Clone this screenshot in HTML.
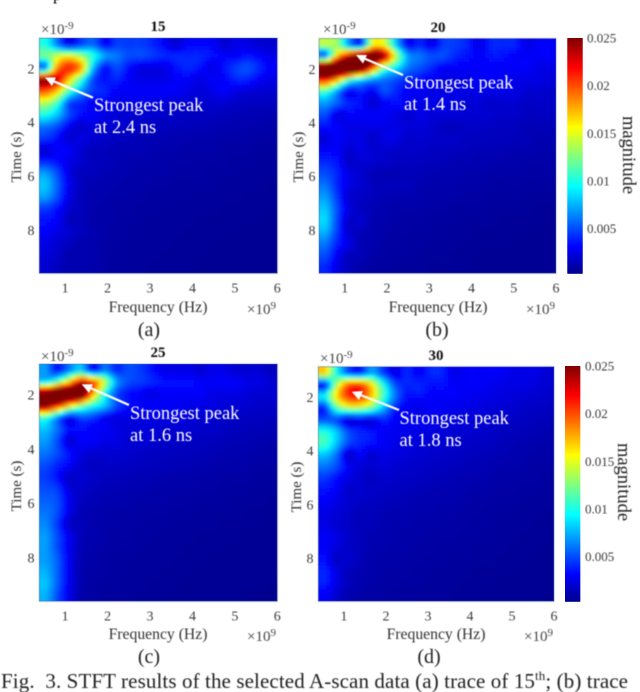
<!DOCTYPE html>
<html lang="en">
<head>
<meta charset="utf-8">
<title>STFT results</title>
<style>
html,body{margin:0;padding:0;background:#fff;width:640px;height:692px;overflow:hidden}
svg{display:block}
text{font-family:"Liberation Serif",serif}
.soft{filter:url(#soft)}
.tick{font-size:14px;fill:#3a3a3a}
.cbtick{font-size:13px;fill:#3a3a3a}
.lab{font-size:15.7px;fill:#333}
.ylab{font-size:15px;fill:#333}
.ttl{font-size:15px;font-weight:bold;fill:#111}
.sub{font-size:20px;fill:#222}
.ann{font-size:18.5px;fill:#fff}
.exp{font-size:15px;fill:#444}
.expsup{font-size:11px;fill:#444}
.mag{font-size:18.5px;fill:#222}
.cap{font-size:21px;fill:#222}
</style>
</head>
<body>
<svg id="figure" xmlns="http://www.w3.org/2000/svg" width="640" height="692" viewBox="0 0 640 692">
<defs>
<filter id="hm" x="-5%" y="-5%" width="110%" height="110%"><feGaussianBlur stdDeviation="1.8"/></filter>
<filter id="soft" x="-5%" y="-5%" width="110%" height="110%"><feGaussianBlur stdDeviation="0.4"/></filter>
</defs>
<g id="heatmaps"></g>
<g id="axes" class="soft"></g>

<g class="soft">
<text x="53" y="0" font-size="17">p</text>

<text class="ttl" x="158" y="31" text-anchor="middle">15</text>
<text class="ttl" x="438" y="32" text-anchor="middle">20</text>
<text class="ttl" x="158" y="357" text-anchor="middle">25</text>
<text class="ttl" x="436" y="360" text-anchor="middle">30</text>

<text class="lab" x="158" y="312" text-anchor="middle">Frequency (Hz)</text>
<text class="lab" x="438" y="312" text-anchor="middle">Frequency (Hz)</text>
<text class="lab" x="158" y="639" text-anchor="middle">Frequency (Hz)</text>
<text class="lab" x="436" y="639" text-anchor="middle">Frequency (Hz)</text>

<text class="ylab" transform="translate(21,157) rotate(-90)" text-anchor="middle">Time (s)</text>
<text class="ylab" transform="translate(303,157) rotate(-90)" text-anchor="middle">Time (s)</text>
<text class="ylab" transform="translate(21,486) rotate(-90)" text-anchor="middle">Time (s)</text>
<text class="ylab" transform="translate(301,487) rotate(-90)" text-anchor="middle">Time (s)</text>

<text class="exp" x="41" y="34">×10<tspan class="expsup" dy="-5">-9</tspan></text>
<text class="exp" x="323" y="34">×10<tspan class="expsup" dy="-5">-9</tspan></text>
<text class="exp" x="41" y="361">×10<tspan class="expsup" dy="-5">-9</tspan></text>
<text class="exp" x="320" y="363">×10<tspan class="expsup" dy="-5">-9</tspan></text>

<text class="exp" x="247" y="314">×10<tspan class="expsup" dy="-5">9</tspan></text>
<text class="exp" x="526" y="314">×10<tspan class="expsup" dy="-5">9</tspan></text>
<text class="exp" x="247" y="641">×10<tspan class="expsup" dy="-5">9</tspan></text>
<text class="exp" x="524" y="641">×10<tspan class="expsup" dy="-5">9</tspan></text>

<text class="sub" x="149" y="336" text-anchor="middle">(a)</text>
<text class="sub" x="437" y="336" text-anchor="middle">(b)</text>
<text class="sub" x="149" y="663" text-anchor="middle">(c)</text>
<text class="sub" x="429" y="663" text-anchor="middle">(d)</text>

<text class="mag" transform="translate(623,155) rotate(90)" text-anchor="middle">magnitude</text>
<text class="mag" transform="translate(618,482) rotate(90)" text-anchor="middle">magnitude</text>

<g>
<line x1="93" y1="97.7" x2="51" y2="80.2" stroke="#fff" stroke-width="2.2"/>
<polygon points="45,77.5 56,77.5 52,86" fill="#fff"/>
<text class="ann" x="94" y="111">Strongest peak</text>
<text class="ann" x="94" y="133">at 2.4 ns</text>
</g>
<g>
<line x1="403" y1="75" x2="362" y2="57.5" stroke="#fff" stroke-width="2.2"/>
<polygon points="356,55 367,55 363,63.5" fill="#fff"/>
<text class="ann" x="404" y="88.5">Strongest peak</text>
<text class="ann" x="404" y="110">at 1.4 ns</text>
</g>
<g>
<line x1="129" y1="405" x2="88" y2="387" stroke="#fff" stroke-width="2.2"/>
<polygon points="81.7,384.3 93,384.3 89,393" fill="#fff"/>
<text class="ann" x="130" y="419">Strongest peak</text>
<text class="ann" x="130" y="441">at 1.6 ns</text>
</g>
<g>
<line x1="399" y1="410" x2="358" y2="394" stroke="#fff" stroke-width="2.2"/>
<polygon points="351.7,391.7 363,391 359,400" fill="#fff"/>
<text class="ann" x="399.5" y="424">Strongest peak</text>
<text class="ann" x="399.5" y="446">at 1.8 ns</text>
</g>

<text class="cap" x="1" y="688" textLength="627" xml:space="preserve">Fig.  3. STFT results of the selected A-scan data (a) trace of 15<tspan font-size="13" dy="-8">th</tspan><tspan dy="8">; (b) trace</tspan></text>
</g>
</svg>

<script>
/* magnitudes in units of 0.001, 20 frequency columns by 20 time rows */
var trace15 = [
[10,6,2.5,4.5,5.5,3,4.5,4.5,4.5,4,3,2,3,3,3,2,2.5,2.5,2,2],
[12,14,15,13,10,7,6,5,5,4.5,4,4,4,4,3.5,3,3,3.5,3,2.5],
[6,18,21,18,8,3.5,5,3.5,2.5,2.5,2.5,3.5,4,3.5,2.5,3.5,4.5,5,4,3],
[24,23,17,11,5,3.5,4,3,2.5,2.5,2.5,3,3,2.5,3,3,4,4,3,2.5],
[20,17,11,7,4.5,4,3,3,3,3,3,3,2.5,2.2,2.5,3,2.5,2.2,2,2],
[14,11,5,4,3,3,2.5,2.5,2.5,2.5,2.2,2,2,2,2,2,1.8,1.6,1.6,1.6],
[10,8,5,3.5,3,2.5,2.2,2,2,2,1.8,1.8,1.6,1.6,1.6,1.5,1.4,1.3,1.3,1.2],
[6,5,3,1.8,2.5,2,2,1.8,1.8,1.6,1.5,1.5,1.4,1.4,1.3,1.2,1.2,1.1,1.1,1],
[4.5,3.5,2,2.5,2,1.8,1.6,1.5,1.4,1.3,1.3,1.2,1.2,1.1,1.1,1,1,1,.9,.9],
[2,3,3,2,1.5,1.5,1.3,1.3,1.3,1.2,1.1,1.1,1,1,1,.9,.9,.9,.8,.8],
[4,3.5,2.5,2,1.5,1.5,1.3,1.2,1.1,1.1,1,1,1,.9,.9,.9,.8,.8,.8,.7],
[7,5,2.5,1.5,1.5,1.3,1.2,1.1,1,1,1,.9,.9,.9,.8,.8,.8,.7,.7,.7],
[8,5.5,2.8,1.6,1.2,1.2,1.1,1,1,.9,.9,.8,.8,.8,.8,.7,.7,.7,.7,.6],
[7,5,2.5,1.4,1.2,1.1,1,1,.9,.8,.8,.8,.8,.7,.7,.7,.7,.6,.6,.6],
[4.5,3.5,2,1.5,1.1,1,.9,.9,.8,.8,.8,.7,.7,.7,.7,.6,.6,.6,.6,.6],
[3.5,3,1.5,1.5,1,1,.9,.8,.8,.7,.7,.7,.7,.6,.6,.6,.6,.6,.6,.5],
[3,2.5,2,1.5,1.2,1,.9,.8,.8,.7,.7,.7,.6,.6,.6,.6,.6,.5,.5,.5],
[2.5,2,1.5,1.2,1.1,.9,.8,.8,.7,.7,.7,.6,.6,.6,.6,.5,.5,.5,.5,.5],
[2.2,1.8,1.2,1.2,1.2,.9,.8,.7,.7,.7,.6,.6,.6,.6,.5,.5,.5,.5,.5,.5],
[2,1.5,1.2,1.2,1,.9,.8,.7,.7,.6,.6,.6,.6,.5,.5,.5,.5,.5,.5,.5]
];
var trace20 = [
[14,13,7,4,15,15,8,3,4,2.5,4.5,4.5,4,2.5,4,4,4,2.5,3,3],
[6,17,23,27,27,24,14,7,6,5,5,4,3.5,3,3.5,3.5,3,3,3,3],
[30,32,32,28,20,12,9,6,5,4,3,3,3,3,3,3,3,3,2.5,2.5],
[22,18,12,9,7,6,5,4,3.5,3,2.5,2.5,2.5,3,3,3,2.5,2.5,2.5,2.2],
[11,7,3,4,3,5,4,3,3,2.5,2.5,2.5,2.5,2.5,2.5,2.5,2.5,2,2,1.8],
[7,5.5,4,3.5,2,3,3.5,3,2.5,2.5,2.5,2.5,2,2.2,1.8,2,2,1.7,1.8,1.8],
[5,2.5,3,3,3,3,2.5,2,2.5,2.2,2.2,2.2,2,2,2,1.8,1.8,1.6,1.6,1.6],
[3.5,3,2.5,2.5,2.5,2.5,2.5,2.2,2.2,2,1.6,1.5,1.8,1.8,1.6,1.6,1.6,1.3,1.4,1.4],
[2.2,3,2.5,2.5,1.8,2.5,2.5,1.8,2,1.8,1.8,1.8,1.6,1.6,1.5,1.5,1.4,1.4,1.2,1.2],
[3,3,2,2.5,2,2,1.8,1.8,1.8,1.6,1.6,1.5,1.5,1.3,1.4,1.3,1.2,1.2,1.1,1.1],
[4,3.5,1.8,2,2,1.8,1.6,1.6,1.5,1.5,1.4,1.2,1.3,1.2,1.2,1.1,1.1,1,1,1],
[5,4,2.5,2,1.4,1.3,1.3,1.4,1.4,1.3,1.2,1.2,1.1,1.1,1,1,1,.9,.9,.9],
[6,4,2.5,2,1.5,1.5,1.5,1.5,1.2,1.1,1.1,1.1,1,1,.9,.8,.9,.8,.8,.8],
[7,4.5,2,1.8,1.5,1.3,1.2,1.2,1.1,1,1,1,.9,.9,.8,.8,.8,.7,.7,.7],
[8,5,2.5,1.6,1.3,1.2,1,1,1,.9,.9,.8,.8,.8,.7,.7,.7,.7,.6,.6],
[8.5,4.8,1.8,2,1.2,1.1,1,.9,.9,.8,.8,.8,.7,.7,.7,.6,.6,.6,.6,.6],
[7.5,4.5,2,1.5,1.2,1,.9,.9,.8,.8,.7,.7,.7,.6,.6,.6,.6,.6,.5,.5],
[6,3.8,2.5,1.3,1.2,.9,.9,.8,.8,.7,.7,.7,.6,.6,.6,.6,.5,.5,.5,.5],
[5,3,1.5,1.5,1,.9,.8,.8,.7,.7,.7,.6,.6,.6,.5,.5,.5,.5,.5,.5],
[4,2.5,1.5,1,.8,.8,.7,.7,.7,.6,.6,.6,.6,.5,.5,.5,.5,.5,.5,.5]
];
var trace25 = [
[7,3.5,6,8,3,6,4,5,4.5,3.5,2.5,2.5,2.5,2,2.5,2.5,2,2,2,1.5],
[9,12,17,23,20,14,7,5,4.5,4,3.5,3.5,3.5,3,3,3,3,2.5,2.5,2],
[27,29,30,29,18,10,5,3.5,3,2.5,3,3,3,3,2.5,2.5,2.5,2.2,2,2],
[25,22,17,13,10,8,5,3.5,3,3,3,2.8,2.6,2.5,2.4,2.2,2,2,1.8,1.8],
[11,7,3,5,4.5,3,2.5,2.5,2.5,2.5,2.4,2.4,2.2,2,2,1.8,1.8,1.6,1.6,1.5],
[8,6,3.5,3.5,3,3,2.5,2.2,2.2,2.2,2,2,2,1.8,1.8,1.6,1.5,1.4,1.4,1.3],
[7,5,2.2,3,3,2.5,2.5,2,2.2,2,1.8,1.8,1.7,1.6,1.5,1.4,1.3,1.3,1.2,1.1],
[6,5,3.5,2.5,2,2,2,1.9,1.7,1.6,1.6,1.5,1.5,1.4,1.3,1.2,1.2,1.1,1,1],
[5,4,3,2,1.6,1.8,1.7,1.6,1.6,1.5,1.4,1.4,1.3,1.2,1.1,1.1,1,1,.9,.9],
[4.5,3.5,1.8,2,1.8,1.5,1.5,1.4,1.3,1.3,1.2,1.1,1.1,1,1,.9,.9,.9,.8,.8],
[5,4.5,2.3,1.8,1.5,1.4,1.3,1.2,1.2,1.1,1,1,1,.9,.9,.8,.8,.8,.7,.7],
[5.5,5,2.8,1.6,1.4,1.2,1.2,1.1,1,1,1,.9,.9,.8,.8,.8,.7,.7,.7,.6],
[6,5,2.6,1.4,1.2,1.1,1,1,.9,.9,.9,.8,.8,.7,.7,.7,.7,.6,.6,.6],
[6.5,4.5,1.8,1.5,1.1,1,1,.9,.9,.8,.8,.7,.7,.7,.7,.6,.6,.6,.6,.5],
[7,5,2.8,1.4,1.2,1,.9,.9,.8,.8,.7,.7,.7,.6,.6,.6,.6,.5,.5,.5],
[7,5,2.8,1.3,1.1,.9,.9,.8,.8,.7,.7,.7,.6,.6,.6,.6,.5,.5,.5,.5],
[7,5.5,2.8,1.3,1,.9,.8,.8,.7,.7,.7,.6,.6,.6,.5,.5,.5,.5,.5,.5],
[7.5,5.5,2.8,1.2,1,.9,.8,.7,.7,.7,.6,.6,.6,.5,.5,.5,.5,.5,.5,.5],
[8,5.5,2.8,1.2,.9,.8,.8,.7,.7,.6,.6,.6,.5,.5,.5,.5,.5,.5,.5,.4],
[7.5,5,2.6,1.1,.9,.8,.7,.7,.6,.6,.6,.5,.5,.5,.5,.5,.5,.4,.4,.4]
];
var trace30 = [
[17,10,5,3.5,7,4.5,2.5,4,3,4,4,2.5,3,3,3,3,2.5,2.5,2.5,2],
[3.5,13,19,20,16,10,5,4,4,3.5,3.5,3,3,3,2.8,2.5,2.5,2.5,2.2,2],
[9,16,20.5,21,17,11,6,3.5,3.5,3,3,3,2.8,2.6,2.5,2.4,2.2,2,2,1.8],
[4,11,14,14,12,8,4,3,2.5,3,2.8,2.6,2.5,2.4,2.2,2,2,1.8,1.7,1.6],
[5,5,2.5,3,2.5,4,3,2.8,2.8,2.6,2.5,2.4,2.2,2.1,2,1.8,1.7,1.6,1.5,1.4],
[10,8,5,4,3.5,3,2.8,2.6,2.5,2.4,2.2,2,2,1.9,1.8,1.6,1.5,1.4,1.3,1.2],
[11,8,5,4,3.5,3,2.6,2.4,2.2,2,2,1.9,1.8,1.7,1.6,1.4,1.3,1.2,1.1,1.1],
[8,6,2,3,2,2.5,2.3,2.2,2,1.9,1.8,1.7,1.6,1.5,1.4,1.3,1.2,1.1,1,1],
[6,5,3,2.2,2,2.2,2,1.9,1.8,1.7,1.6,1.5,1.4,1.3,1.2,1.1,1.1,1,.9,.9],
[4.5,3.5,2.5,2,1.6,1.9,1.8,1.7,1.6,1.5,1.4,1.3,1.2,1.2,1.1,1,1,.9,.9,.8],
[3.5,3,1.8,2,1.8,1.7,1.6,1.5,1.4,1.3,1.2,1.2,1.1,1,1,.9,.9,.8,.8,.7],
[3,2.5,2,1.8,1.6,1.5,1.4,1.3,1.2,1.2,1.1,1.1,1,.9,.9,.8,.8,.7,.7,.7],
[2.5,2.2,1.8,1.4,1.5,1.3,1.2,1.2,1.1,1.1,1,1,.9,.9,.8,.8,.7,.7,.7,.6],
[2.5,2,1.8,1.4,1.4,1.2,1.1,1.1,1,1,1,.9,.9,.8,.8,.7,.7,.7,.6,.6],
[3,2.5,1.8,1.5,1.2,1.2,1.1,1,1,.9,.9,.9,.8,.8,.7,.7,.7,.6,.6,.6],
[3,2.2,1.8,1.5,1.2,1.1,1,1,.9,.9,.8,.8,.8,.7,.7,.7,.6,.6,.6,.5],
[3.5,1.8,2,1.4,1.1,1,1,.9,.9,.8,.8,.7,.7,.7,.7,.6,.6,.6,.5,.5],
[4,2.5,1.5,1.2,1.1,1,.9,.9,.8,.8,.7,.7,.7,.6,.6,.6,.6,.5,.5,.5],
[3.8,2.5,1.5,1.2,1,.9,.9,.8,.8,.7,.7,.7,.6,.6,.6,.5,.5,.5,.5,.5],
[3,2,1.2,1,.9,.9,.8,.8,.7,.7,.7,.6,.6,.6,.5,.5,.5,.5,.5,.4]
];
var freqTicks = [1, 2, 3, 4, 5, 6];
var timeTicks = [2, 4, 6, 8];
var colorbarTicks = [0.005, 0.01, 0.015, 0.02, 0.025];
var colorbarLabels = ["0.005", "0.01", "0.015", "0.02", "0.025"];

var NS = "http://www.w3.org/2000/svg";
var COLOR_MAX = 0.025, COLOR_MIN = 0.0003;
var FREQ_MIN = 0.39, FREQ_MAX = 6, TIME_MIN = 0.85, TIME_MAX = 9.6;

function jet(t) {
  t = Math.max(0, Math.min(1, t));
  function ch(c) { return Math.round(255 * Math.max(0, Math.min(1, 1.5 - Math.abs(4 * t - c)))); }
  return "rgb(" + ch(3) + "," + ch(2) + "," + ch(1) + ")";
}
function catmull(p0, p1, p2, p3, f) {
  return p1 + 0.5 * f * (p2 - p0 + f * (2 * p0 - 5 * p1 + 4 * p2 - p3 + f * (3 * (p1 - p2) + p3 - p0)));
}
function sample(grid, gx, gy) {
  var rows = grid.length, cols = grid[0].length;
  gx = Math.max(0, Math.min(cols - 1, gx));
  gy = Math.max(0, Math.min(rows - 1, gy));
  var ix = Math.floor(gx), iy = Math.floor(gy), fx = gx - ix, fy = gy - iy, vals = [];
  for (var r = -1; r <= 2; r++) {
    var row = grid[Math.max(0, Math.min(rows - 1, iy + r))];
    vals.push(catmull(
      row[Math.max(0, ix - 1)], row[ix],
      row[Math.min(cols - 1, ix + 1)], row[Math.min(cols - 1, ix + 2)], fx));
  }
  return Math.max(0, catmull(vals[0], vals[1], vals[2], vals[3], fy));
}
function addText(parent, x, y, str, anchor, cls) {
  var t = document.createElementNS(NS, "text");
  t.setAttribute("x", x);
  t.setAttribute("y", y);
  t.setAttribute("class", cls);
  t.setAttribute("text-anchor", anchor);
  t.textContent = str;
  parent.appendChild(t);
  return t;
}

var panels = [
  {id: "a", grid: trace15, left: 39.3, right: 277.3, top: 38, bottom: 273.3, ylab: 31},
  {id: "b", grid: trace20, left: 319, right: 556, top: 38.5, bottom: 273.3, ylab: 312},
  {id: "c", grid: trace25, left: 39.3, right: 277.3, top: 364, bottom: 601.3, ylab: 31},
  {id: "d", grid: trace30, left: 318.3, right: 554, top: 366.7, bottom: 601.3, ylab: 310}
];
var heatLayer = document.getElementById("heatmaps");
var axesLayer = document.getElementById("axes");
var defs = document.querySelector("#figure defs");
var SUB = 3;

panels.forEach(function (p) {
  function xScale(v) { return p.left + (v - FREQ_MIN) / (FREQ_MAX - FREQ_MIN) * (p.right - p.left); }
  function yScale(v) { return p.top + (v - TIME_MIN) / (TIME_MAX - TIME_MIN) * (p.bottom - p.top); }

  var clip = document.createElementNS(NS, "clipPath");
  clip.setAttribute("id", "clip-" + p.id);
  var cr = document.createElementNS(NS, "rect");
  cr.setAttribute("x", p.left);
  cr.setAttribute("y", p.top);
  cr.setAttribute("width", p.right - p.left);
  cr.setAttribute("height", p.bottom - p.top);
  clip.appendChild(cr);
  defs.appendChild(clip);

  var outer = document.createElementNS(NS, "g");
  outer.setAttribute("clip-path", "url(#clip-" + p.id + ")");
  
  
  var inner = document.createElementNS(NS, "g");
  inner.setAttribute("filter", "url(#hm)");
  inner.setAttribute("shape-rendering", "crispEdges");
  outer.appendChild(inner);

  var rows = p.grid.length, cols = p.grid[0].length;
  var cw = (p.right - p.left) / (cols * SUB), ch = (p.bottom - p.top) / (rows * SUB);
  for (var j = -3; j < rows * SUB + 3; j++) {
    for (var i = -3; i < cols * SUB + 3; i++) {
      var gx = (i + 0.5) / SUB - 0.5, gy = (j + 0.5) / SUB - 0.5;
      var v = sample(p.grid, gx, gy) / 1000;
      var el = document.createElementNS(NS, "rect");
      el.setAttribute("x", (p.left + i * cw).toFixed(2));
      el.setAttribute("y", (p.top + j * ch).toFixed(2));
      el.setAttribute("width", (cw + 0.6).toFixed(2));
      el.setAttribute("height", (ch + 0.6).toFixed(2));
      el.setAttribute("fill", jet(v / COLOR_MAX));
      
      
      inner.appendChild(el);
    }
  }
  heatLayer.appendChild(outer);

  var frame = document.createElementNS(NS, "rect");
  frame.setAttribute("x", p.left);
  frame.setAttribute("y", p.top);
  frame.setAttribute("width", p.right - p.left);
  frame.setAttribute("height", p.bottom - p.top);
  frame.setAttribute("fill", "none");
  frame.setAttribute("stroke", "#5c6f9c");
  frame.setAttribute("stroke-width", "0.6");
  
  
  axesLayer.appendChild(frame);

  freqTicks.forEach(function (f) {
    var t = addText(axesLayer, xScale(f), p.bottom + 19, String(f), "middle", "tick");
    
    
  });
  timeTicks.forEach(function (s) {
    var t = addText(axesLayer, p.ylab, yScale(s) + 4.5, String(s), "middle", "tick");
    
    
  });
});

var colorbars = [
  {left: 567.3, right: 582.7, top: 38, bottom: 273.3, label: 587},
  {left: 565, right: 580.3, top: 366, bottom: 601.3, label: 585}
];
colorbars.forEach(function (c, idx) {
  var g = document.createElementNS(NS, "g");
  
  
  var n = 118, h = (c.bottom - c.top) / n;
  for (var k = 0; k < n; k++) {
    var frac = (k + 0.5) / n;
    var val = COLOR_MAX - frac * (COLOR_MAX - COLOR_MIN);
    var r = document.createElementNS(NS, "rect");
    r.setAttribute("x", c.left);
    r.setAttribute("y", (c.top + k * h).toFixed(2));
    r.setAttribute("width", c.right - c.left);
    r.setAttribute("height", (h + 0.5).toFixed(2));
    r.setAttribute("fill", jet(val / COLOR_MAX));
    
    
    g.appendChild(r);
  }
  heatLayer.appendChild(g);
  colorbarTicks.forEach(function (v, i) {
    var y = c.top + (COLOR_MAX - v) / (COLOR_MAX - COLOR_MIN) * (c.bottom - c.top);
    var t = addText(axesLayer, c.label, y + 4.5, colorbarLabels[i], "start", "cbtick");
    
    
  });
});
</script>
</body>
</html>
